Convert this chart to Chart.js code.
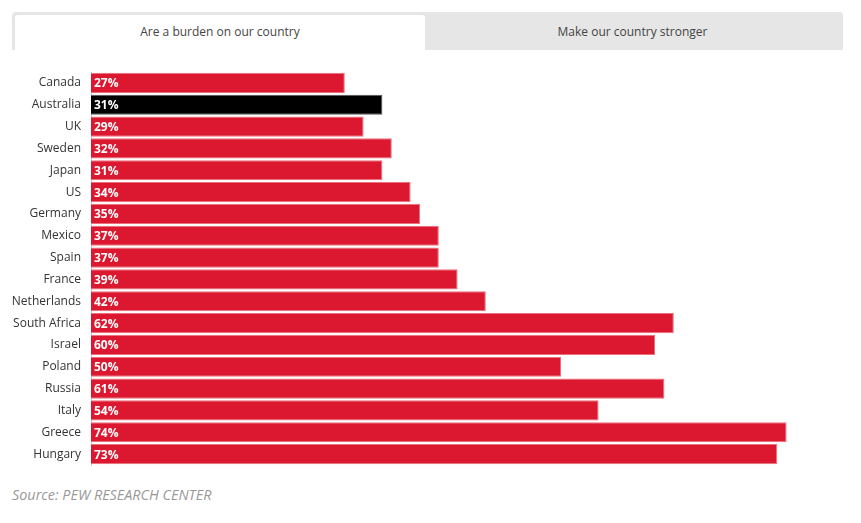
<!DOCTYPE html>
<html>
<head>
<meta charset="utf-8">
<script src="https://cdn.jsdelivr.net/npm/chart.js@4.4.0/dist/chart.umd.min.js"></script>
<style>
    body { margin: 0; background: #fff; font-family: "Open Sans", sans-serif; }
    #wrap { position: relative; width: 861px; height: 523px; }
    #tabs { position: absolute; left: 12px; top: 12px; width: 831px; height: 38px; background: #e6e6e6; border-radius: 4px 4px 0 0; }
    .tab { position: absolute; top: 3px; height: 34px; line-height: 34px; text-align: center; font-size: 12px; color: #444; }
    .tab.active { left: 3px; width: 410px; background: #fff; border-radius: 3px 3px 0 0; height: 35px; }
    .tab.other { left: 413px; width: 415px; }
    #chartBox { position: absolute; left: 0; top: 60px; width: 861px; height: 420px; }
    #source { position: absolute; left: 12px; top: 485px; font-size: 14.4px; font-style: italic; color: #999; }
</style>
</head>
<body>
<div id="wrap">
    <div id="tabs">
        <div class="tab active">Are a burden on our country</div>
        <div class="tab other">Make our country stronger</div>
    </div>
    <div id="chartBox"><canvas id="burdenChart"></canvas></div>
    <div id="source">Source: PEW RESEARCH CENTER</div>
</div>
<script>
// Share saying immigrants are a burden on our country (%)
const countries = ['Canada', 'Australia', 'UK', 'Sweden', 'Japan', 'US', 'Germany', 'Mexico', 'Spain',
    'France', 'Netherlands', 'South Africa', 'Israel', 'Poland', 'Russia', 'Italy', 'Greece', 'Hungary'];
const burdenValues = [27, 31, 29, 32, 31, 34, 35, 37, 37, 39, 42, 62, 60, 50, 61, 54, 74, 73];
const highlighted = 'Australia';

const RED = '#db1830';
const RED_EDGE = '#ec6f7c';

// Draws the "27%" style labels inside each bar, at its start
const valueLabels = {
    id: 'valueLabels',
    afterDatasetsDraw(chart) {
        const ctx = chart.ctx;
        const meta = chart.getDatasetMeta(0);
        ctx.save();
        ctx.fillStyle = '#fff';
        ctx.font = 'bold 12px "Open Sans", sans-serif';
        ctx.textBaseline = 'middle';
        ctx.textAlign = 'left';
        meta.data.forEach((bar, i) => {
            ctx.fillText(burdenValues[i] + '%', bar.base + 3, bar.y + 1);
        });
        ctx.restore();
    }
};

const ctx = document.getElementById('burdenChart');
new Chart(ctx, {
    type: 'bar',
    data: {
        labels: countries,
        datasets: [{
            data: burdenValues,
            backgroundColor: countries.map(c => c === highlighted ? '#000' : RED),
            borderColor: countries.map(c => c === highlighted ? '#555' : RED_EDGE),
            borderWidth: 1,
            borderSkipped: 'left',
            barPercentage: 0.92,
            categoryPercentage: 1
        }]
    },
    options: {
        indexAxis: 'y',
        responsive: true,
        maintainAspectRatio: false,
        animation: false,
        layout: { padding: { top: 12, bottom: 15, left: 0, right: 18 } },
        scales: {
            x: { display: false, min: 0, max: 80 },
            y: {
                grid: { display: false },
                border: { display: true, color: '#cccccc', width: 1 },
                ticks: { color: '#333', font: { family: '"Open Sans", sans-serif', size: 12 }, padding: 2 },
                afterFit(scale) { scale.width = 91; }
            }
        },
        plugins: {
            legend: { display: false },
            tooltip: { enabled: false }
        }
    },
    plugins: [valueLabels]
});
</script>
</body>
</html>
